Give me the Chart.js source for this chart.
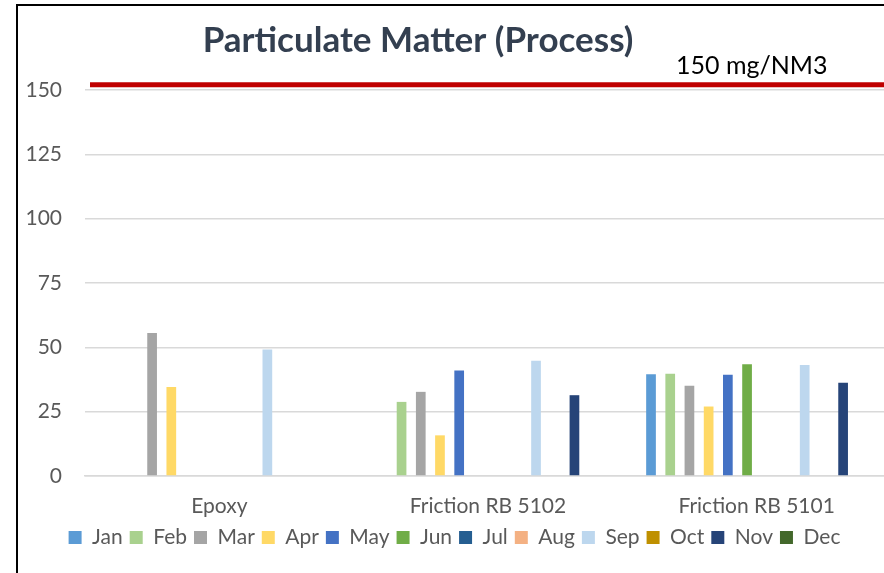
<!DOCTYPE html>
<html>
<head>
<meta charset="utf-8">
<script src="https://cdn.jsdelivr.net/npm/chart.js@4"></script>
<style>
  html, body { margin: 0; padding: 0; background: #fff; overflow: hidden; }
  #frame { position: absolute; left: 16px; top: 4px; width: 900px; height: 600px;
           border-left: 2px solid #000; border-top: 2px solid #000; }
  #wrap { position: absolute; left: 18px; top: 6px; width: 884px; height: 567px; }
</style>
</head>
<body>
<div id="frame"></div>
<div id="wrap"><canvas id="pm"></canvas></div>
<script>
	// data
	var categories = ['Epoxy', 'Friction RB 5102', 'Friction RB 5101'];
	var months = ['Jan', 'Feb', 'Mar', 'Apr', 'May', 'Jun', 'Jul', 'Aug', 'Sep', 'Oct', 'Nov', 'Dec'];
	var monthColors = ['#5B9BD5', '#A9D18E', '#A5A5A5', '#FFD966', '#4472C4', '#70AD47',
		'#255E91', '#F4B183', '#BDD7EE', '#BF9000', '#264478', '#43682B'];

	// one row per month: [Epoxy, RB 5102, RB 5101]
	var jan = [null, null, 39.5];
	var feb = [null, 28.8, 39.7];
	var mar = [55.6, 32.7, 35.1];
	var apr = [34.6, 15.8, 27.0];
	var may = [null, 41.0, 39.3];
	var jun = [null, null, 43.4];
	var jul = [null, null, null];
	var aug = [null, null, null];
	var sep = [49.2, 44.8, 43.1];
	var oct = [null, null, null];
	var nov = [null, 31.4, 36.2];
	var dec = [null, null, null];
	var monthValues = [jan, feb, mar, apr, may, jun, jul, aug, sep, oct, nov, dec];

	var yTicks = [0, 25, 50, 75, 100, 125, 150];
	var limitValue = 152;
	var limitLabel = '150 mg/NM3';
	var chartTitle = 'Particulate Matter (Process)';

	var uiFont = 'Lato';

	var datasets = months.map(function(m, i) {
		return {
			label: m,
			data: monthValues[i],
			backgroundColor: monthColors[i],
			borderWidth: 0,
			categoryPercentage: 0.858,
			barPercentage: 0.505
		};
	});

	var extras = {
		id: 'extras',
		afterDraw: function(chart) {
			var ctx = chart.ctx;
			var area = chart.chartArea;
			var y = chart.scales.y.getPixelForValue(limitValue);
			ctx.save();
			ctx.strokeStyle = '#C00000';
			ctx.lineWidth = 5;
			ctx.beginPath();
			ctx.moveTo(area.left + 5, y);
			ctx.lineTo(area.right, y);
			ctx.stroke();

			ctx.fillStyle = '#000';
			ctx.font = '25px ' + uiFont;
			ctx.textAlign = 'left';
			ctx.textBaseline = 'alphabetic';
			ctx.fillText(limitLabel, 658, 68);

			ctx.fillStyle = '#333F50';
			ctx.font = 'bold 35px ' + uiFont;
			ctx.textAlign = 'center';
			ctx.fillText(chartTitle, 400, 46);
			ctx.restore();
		}
	};

	new Chart(document.getElementById('pm'), {
		type: 'bar',
		data: { labels: categories, datasets: datasets },
		plugins: [extras],
		options: {
			responsive: true,
			maintainAspectRatio: false,
			animation: false,
			layout: { padding: { left: 0, right: 11, top: 84, bottom: 15 } },
			plugins: {
				title: { display: false },
				tooltip: { enabled: false },
				legend: {
					position: 'bottom',
					labels: {
						boxWidth: 13,
						boxHeight: 13,
						padding: 7,
						color: '#595959',
						font: { family: uiFont, size: 21 }
					}
				}
			},
			scales: {
				x: {
					afterFit: function(scale) { scale.height = 44; },
					grid: { display: false },
					border: { color: '#D9D9D9', width: 1.5 },
					ticks: { color: '#595959', padding: 10, font: { family: uiFont, size: 21 } }
				},
				y: {
					min: 0,
					max: 150,
					afterFit: function(scale) { scale.width = 67; },
					afterBuildTicks: function(scale) {
						scale.ticks = yTicks.map(function(v) { return { value: v }; });
					},
					grid: { color: '#D9D9D9', lineWidth: 1.5, drawTicks: false },
					border: { display: false },
					ticks: { color: '#595959', padding: 23, font: { family: uiFont, size: 21 } }
				}
			}
		}
	});
</script>
</body>
</html>
